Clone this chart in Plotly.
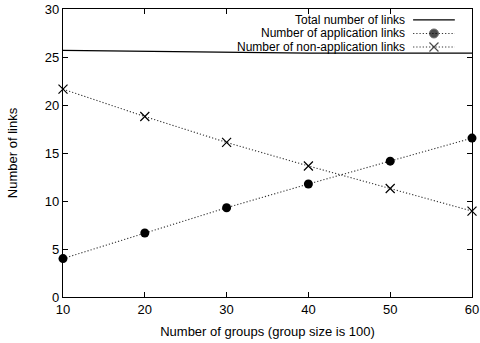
import plotly.graph_objects as go

# Number of groups (group size is 100)
groups = [10, 20, 30, 40, 50, 60]
total_links = [25.7, 25.6, 25.45, 25.4, 25.4, 25.4]
application_links = [4.0, 6.67, 9.3, 11.77, 14.15, 16.55]
non_application_links = [21.65, 18.8, 16.1, 13.65, 11.3, 8.95]

series_names = [
    "Total number of links",
    "Number of application links",
    "Number of non-application links",
]
y_ticks = [0, 5, 10, 15, 20, 25, 30]
x_ticks = [10, 20, 30, 40, 50, 60]

FONT = "Liberation Sans, Arial, Helvetica, sans-serif"
FS = 13
KEY_FS = 12
DOT = "rgb(50,50,50)"
DOT_DASH = "1.2px,2px"

fig = go.Figure()

fig.add_trace(go.Scatter(
    x=groups, y=total_links, mode="lines",
    line=dict(color="black", width=1.2),
    showlegend=False, cliponaxis=False,
))
fig.add_trace(go.Scatter(
    x=groups, y=application_links, mode="lines+markers",
    line=dict(color=DOT, width=1.1, dash=DOT_DASH),
    marker=dict(symbol="circle", size=9, color="black"),
    showlegend=False, cliponaxis=False,
))
fig.add_trace(go.Scatter(
    x=groups, y=non_application_links, mode="lines+markers",
    line=dict(color=DOT, width=1.1, dash=DOT_DASH),
    marker=dict(symbol="x-thin", size=9, line=dict(color="black", width=1.2)),
    showlegend=False, cliponaxis=False,
))

# Key: text on the left, line sample on the right (drawn on an overlay axis in 0..1 units)
key_rows = [0.962, 0.915, 0.868]
key_x0, key_x1 = 0.856, 0.958
key_mid = (key_x0 + key_x1) / 2
key_styles = [
    dict(mode="lines", line=dict(color="black", width=1.2)),
    dict(mode="lines+markers", line=dict(color=DOT, width=1.1, dash=DOT_DASH),
         marker=dict(symbol="circle", size=[0, 9, 0], color="black")),
    dict(mode="lines+markers", line=dict(color=DOT, width=1.1, dash=DOT_DASH),
         marker=dict(symbol="x-thin", size=[0, 9, 0], line=dict(color="black", width=1.2))),
]
for name, yk, style in zip(series_names, key_rows, key_styles):
    fig.add_trace(go.Scatter(
        x=[key_x0, key_mid, key_x1], y=[yk, yk, yk],
        xaxis="x2", yaxis="y2", showlegend=False, hoverinfo="skip", **style,
    ))
    fig.add_annotation(
        x=0.838, y=yk, xref="x2", yref="y2", text=name, showarrow=False,
        xanchor="right", yanchor="middle", borderpad=0,
        font=dict(family=FONT, size=KEY_FS, color="black"),
    )

axis_common = dict(
    showline=True, linecolor="black", linewidth=1.3, mirror="ticks",
    ticks="inside", ticklen=5, tickwidth=1, tickcolor="black",
    showgrid=False, zeroline=False, automargin=False,
    tickfont=dict(family=FONT, size=FS, color="black"),
)

fig.update_layout(
    width=480, height=343,
    margin=dict(l=63, r=8, t=9, b=46),
    paper_bgcolor="white", plot_bgcolor="white",
    font=dict(family=FONT, size=FS, color="black"),
    xaxis=dict(
        range=[10, 60], tickvals=x_ticks,
        title=dict(text="Number of groups (group size is 100)", standoff=11,
                   font=dict(family=FONT, size=FS)),
        **axis_common,
    ),
    yaxis=dict(
        range=[0, 30], tickvals=y_ticks,
        title=dict(text="Number of links", standoff=24,
                   font=dict(family=FONT, size=FS)),
        **axis_common,
    ),
    xaxis2=dict(range=[0, 1], overlaying="x", visible=False, fixedrange=True),
    yaxis2=dict(range=[0, 1], overlaying="y", visible=False, fixedrange=True),
    showlegend=False,
)

fig.write_html("out.html")
